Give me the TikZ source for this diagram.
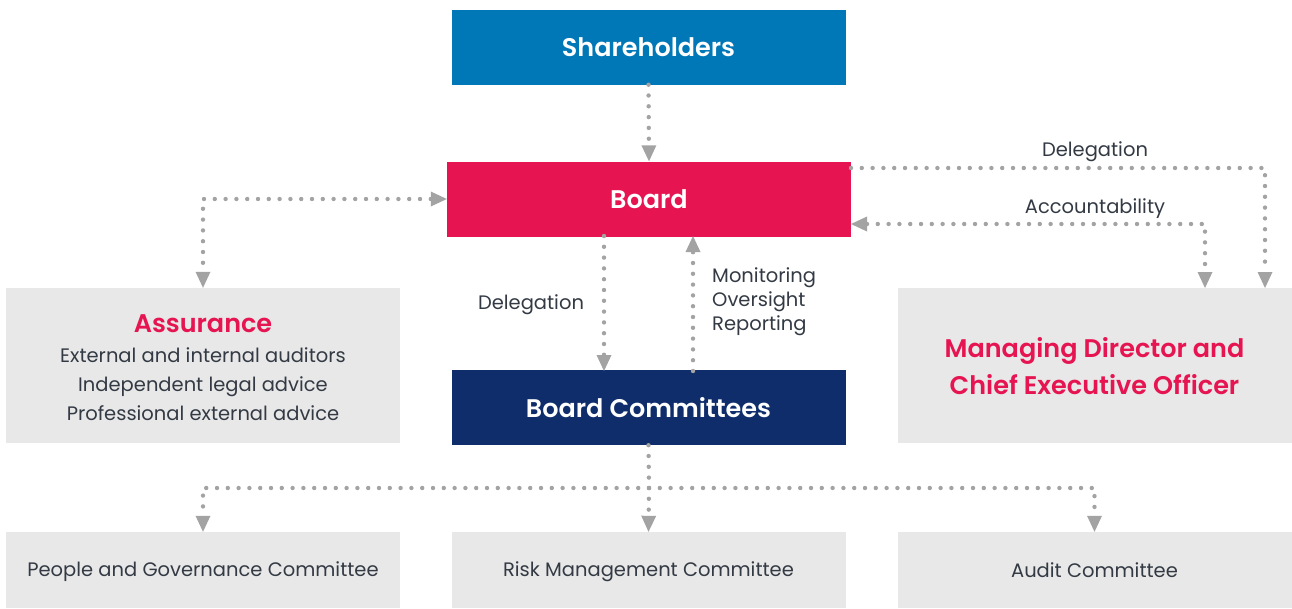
\documentclass[tikz,border=0pt]{standalone}
\usepackage{fontspec}
\setmainfont{Poppins}[BoldFont={Poppins SemiBold}]
\usetikzlibrary{arrows.meta}
\definecolor{cblue}{RGB}{0,119,182}
\definecolor{ccrim}{RGB}{230,20,80}
\definecolor{cnavy}{RGB}{14,45,106}
\definecolor{cbox}{RGB}{232,232,232}
\definecolor{cdot}{RGB}{163,163,163}
\definecolor{ctext}{RGB}{51,58,68}
\tikzset{
  box/.style={minimum width=394pt, minimum height=75pt, inner sep=0pt, align=center},
  gbox/.style={box, fill=cbox, text=ctext},
  title/.style={font=\fontsize{25.5}{30}\selectfont\bfseries, text=white},
  dotline/.style={draw=cdot, line width=4.4pt, line cap=round, dash pattern=on 0pt off 10.8pt},
  tipe/.style={-{Triangle[width=15pt,length=16pt,line width=0pt,fill=cdot]}},
  tipb/.style={{Triangle[width=15pt,length=16pt,line width=0pt,fill=cdot]}-{Triangle[width=15pt,length=16pt,line width=0pt,fill=cdot]}},
  lbl/.style={text=ctext, font=\fontsize{19.5}{24}\selectfont, inner sep=0pt}
}
\begin{document}
\begin{tikzpicture}[x=1pt,y=-1pt]
\useasboundingbox (0,0) rectangle (1292,608);
% nodes
\node[box, fill=cblue, title] (sh) at (648.5,47) {Shareholders};
\node[box, fill=ccrim, title, minimum width=404pt] (bd) at (649,199) {Board};
\node[box, fill=cnavy, title] (cm) at (648.5,407.5) {Board Committees};
\node[gbox, minimum height=155pt] (as) at (203,365.5) {};
\node[text=ctext, align=center, inner sep=0pt, font=\fontsize{19.5}{29.3}\selectfont] (ast) at (203,368)
  {{\color{ccrim}\fontsize{25.5}{30}\selectfont\bfseries Assurance}\\External and internal auditors\\Independent legal advice\\Professional external advice};
\node[gbox, minimum height=155pt] (md) at (1094.5,365.5) {};
\node[text=ccrim, align=center, inner sep=0pt, font=\fontsize{25.5}{37}\selectfont\bfseries] (mdt) at (1094.5,366.5)
  {Managing Director and\\Chief Executive Officer};
\node[gbox, minimum height=76pt] (b1) at (203,570) {};
\node[gbox, minimum height=76pt] (b2) at (648.5,570) {};
\node[gbox, minimum height=76pt] (b3) at (1094.5,570) {};
\node[lbl] (t1) at (203,572) {People and Governance Committee};
\node[lbl] (t2) at (648.5,572) {Risk Management Committee};
\node[lbl] (t3) at (1094.5,570) {Audit Committee};
% coordinates on edges
\coordinate (bdD) at (604,236);
\coordinate (cmD) at (604,371);
\coordinate (bdM) at (693,236);
\coordinate (cmM) at (693,371);
\coordinate (bdR1) at (851,168);
\coordinate (bdR2) at (851,224);
\coordinate (mdD) at (1265,288);
\coordinate (mdA) at (1205,288);
\coordinate (j) at (649,488);
% connectors
\draw[dotline, tipe] (sh.south) -- (bd.north);
\draw[dotline, tipb] (bd.west) -| (as.north);
\draw[dotline, tipe] (bdD) -- (cmD);
\draw[dotline, tipe] (cmM) -- (bdM);
\draw[dotline, tipe] (bdR1) -| (mdD);
\draw[dotline, tipb] (bdR2) -| (mdA);
\draw[dotline] (cm.south) -- (j);
\draw[dotline, tipe] (j) -- (b2.north);
\draw[dotline, tipe] (j) -| (b1.north);
\draw[dotline, tipe] (j) -| (b3.north);
% labels
\node[lbl] (l1) at (531,305) {Delegation};
\node[lbl, anchor=west, align=left] (l2) at (712,302) {Monitoring\\Oversight\\Reporting};
\node[lbl] (l3) at (1095,152) {Delegation};
\node[lbl] (l4) at (1095,209) {Accountability};
\end{tikzpicture}
\end{document}
